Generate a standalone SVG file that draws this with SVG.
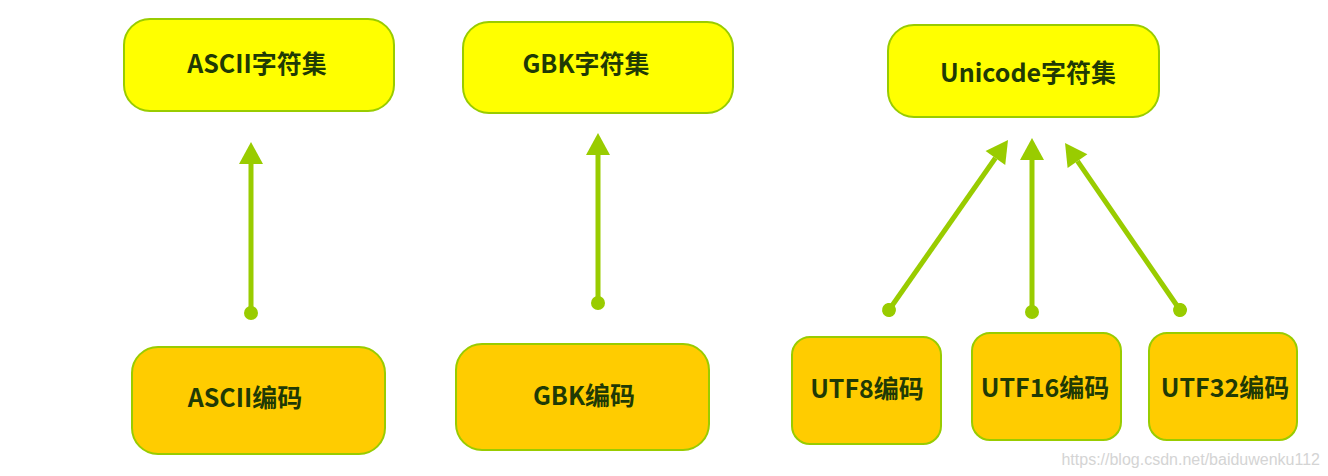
<svg xmlns="http://www.w3.org/2000/svg" width="1328" height="476" viewBox="0 0 1328 476">
<style>
.set{fill:#ffff00;stroke:#99cc00;stroke-width:2}
.enc{fill:#ffcc00;stroke:#99cc00;stroke-width:2}
.lbl{font-family:"Noto Sans CJK SC","Noto Sans",sans-serif;font-weight:700;font-size:25px;fill:#1f3a05;text-anchor:middle;dominant-baseline:central}
.conn{stroke:#99cc00;stroke-width:5;fill:none;marker-start:url(#dot);marker-end:url(#head)}
.wm{font-family:"Liberation Sans",Arial,sans-serif;font-size:16px;fill:#d4d4d4}
</style>
<defs>
<marker id="head" markerUnits="userSpaceOnUse" markerWidth="24" markerHeight="26" refX="0" refY="12" orient="auto" viewBox="0 -1 23 26" overflow="visible">
<path d="M0,0 L22,12 L0,24 Z" fill="#99cc00"/>
</marker>
<marker id="dot" markerUnits="userSpaceOnUse" markerWidth="16" markerHeight="16" refX="8" refY="8" orient="auto" viewBox="0 0 16 16" overflow="visible">
<circle cx="8" cy="8" r="7" fill="#99cc00"/>
</marker>
</defs>
<rect width="1328" height="476" fill="#ffffff"/>
<g id="connectors">
<line class="conn" x1="251" y1="313" x2="251" y2="164"/>
<line class="conn" x1="598" y1="303" x2="598" y2="155"/>
<line class="conn" x1="889" y1="310" x2="995.4" y2="158"/>
<line class="conn" x1="1032" y1="312" x2="1032" y2="160"/>
<line class="conn" x1="1180" y1="310" x2="1077.5" y2="161.1"/>
</g>
<g id="ascii-set"><rect class="set" x="124" y="19" width="270" height="92" rx="26"/><text class="lbl" x="257" y="62">ASCII字符集</text></g>
<g id="gbk-set"><rect class="set" x="463" y="22" width="270" height="91" rx="26"/><text class="lbl" x="586" y="62">GBK字符集</text></g>
<g id="unicode-set"><rect class="set" x="888" y="25" width="271" height="92" rx="26"/><text class="lbl" x="1028" y="71">Unicode字符集</text></g>
<g id="ascii-enc"><rect class="enc" x="132" y="347" width="253" height="107" rx="26"/><text class="lbl" x="245" y="396">ASCII编码</text></g>
<g id="gbk-enc"><rect class="enc" x="456" y="344" width="253" height="106" rx="26"/><text class="lbl" x="584" y="394">GBK编码</text></g>
<g id="utf8-enc"><rect class="enc" x="792" y="337" width="149" height="107" rx="18"/><text class="lbl" x="867" y="387">UTF8编码</text></g>
<g id="utf16-enc"><rect class="enc" x="972" y="333" width="149" height="107" rx="18"/><text class="lbl" x="1045" y="386">UTF16编码</text></g>
<g id="utf32-enc"><rect class="enc" x="1149" y="333" width="148" height="107" rx="18"/><text class="lbl" x="1225" y="386">UTF32编码</text></g>
<text class="wm" x="1320" y="465" text-anchor="end">https://blog.csdn.net/baiduwenku112</text>
</svg>
